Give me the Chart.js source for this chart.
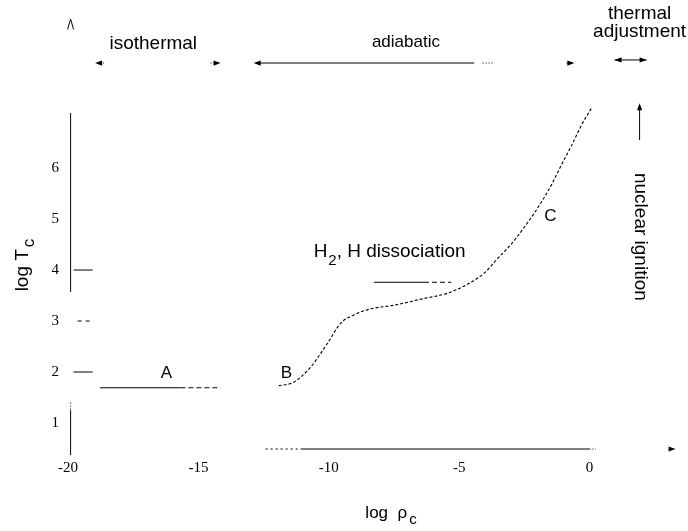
<!DOCTYPE html>
<html>
<head>
<meta charset="utf-8">
<script src="https://cdn.jsdelivr.net/npm/chart.js@4.4.1/dist/chart.umd.min.js"></script>
<style>
  html, body { margin: 0; padding: 0; background: #fff; }
</style>
</head>
<body>
<canvas id="trackChart" width="688" height="531"></canvas>
<script>
// central density / temperature track of a collapsing cloud core
const trackRho = [-11.92, -11.35, -10.69, -10.04, -9.54, -9.04, -8.38, -7.50, -6.46, -5.42, -4.65,
                  -4.04, -3.50, -3.00, -2.50, -1.96, -1.46, -1.08, -0.69, -0.31, 0.08];
const trackT = [1.73, 1.80, 2.10, 2.57, 2.96, 3.12, 3.24, 3.31, 3.43, 3.55, 3.73,
                3.94, 4.24, 4.51, 4.84, 5.24, 5.67, 6.06, 6.44, 6.84, 7.18];
// isothermal stage (A) and the H2 / H dissociation level
const isoRho = [-18.77, -15.69, -14.15];
const isoT = [1.69, 1.69, 1.69];
const dissRho = [-8.27, -6.35, -5.30];
const dissT = [3.76, 3.76, 3.76];

const xTicks = [-20, -15, -10, -5, 0];
const yTicks = [1, 2, 3, 4, 5, 6];

// phases shown as arrows along the top
const phases = ['isothermal', 'adiabatic', 'thermal adjustment'];
const phaseFrom = [-18.96, -12.88, 0.96];
const phaseTo = [-14.15, -0.58, 2.19];

const SANS = '"Liberation Sans", Arial, sans-serif';
const SERIF = '"Liberation Serif", "Times New Roman", serif';

// dashed tail on the last segment of a marker line
const tailDash = ctx => ctx.p0DataIndex === 1 ? [5, 3] : undefined;

function arrowHead(ctx, x, y, ang) {
    const len = 7, half = 2.6;
    ctx.beginPath();
    ctx.moveTo(x, y);
    ctx.lineTo(x - len * Math.cos(ang) + half * Math.sin(ang), y - len * Math.sin(ang) - half * Math.cos(ang));
    ctx.lineTo(x - len * Math.cos(ang) - half * Math.sin(ang), y - len * Math.sin(ang) + half * Math.cos(ang));
    ctx.closePath();
    ctx.fill();
}

function seg(ctx, x1, y1, x2, y2, dash) {
    ctx.setLineDash(dash || []);
    ctx.beginPath();
    ctx.moveTo(x1, y1);
    ctx.lineTo(x2, y2);
    ctx.stroke();
    ctx.setLineDash([]);
}

const sketch = {
    id: 'sketch',
    afterDraw(chart) {
        const { ctx, scales: { x, y } } = chart;
        const px = v => x.getPixelForValue(v);
        const py = v => y.getPixelForValue(v);
        ctx.save();
        ctx.strokeStyle = '#000';
        ctx.fillStyle = '#000';
        ctx.lineWidth = 1;

        // y axis (broken as in the original print)
        const ax = px(-19.9);
        seg(ctx, ax, py(7.08), ax, py(3.57));
        seg(ctx, ax, py(1.25), ax, py(0.37));
        seg(ctx, ax, py(1.40), ax, py(1.25), [1, 2]);
        seg(ctx, ax - 3, py(8.72), ax, py(8.92));
        seg(ctx, ax + 3, py(8.72), ax, py(8.92));
        // inward ticks
        seg(ctx, ax + 3, py(4), ax + 22, py(4));
        seg(ctx, ax + 3, py(2), ax + 22, py(2));
        seg(ctx, ax + 7, py(3), ax + 21, py(3), [4, 4]);

        // x axis
        const ay = py(0.49);
        seg(ctx, px(-12.42), ay, px(-11.08), ay, [2, 3]);
        seg(ctx, px(-11.08), ay, px(0), ay);
        seg(ctx, px(0), ay, px(0.25), ay, [1, 2]);
        arrowHead(ctx, px(3.3), ay, 0);

        // phase arrows
        const top = py(8.06);
        arrowHead(ctx, px(phaseFrom[0]), top, Math.PI);
        seg(ctx, px(phaseFrom[0]) + 5, top, px(phaseFrom[0]) + 9, top, [1, 2]);
        arrowHead(ctx, px(phaseTo[0]), top, 0);
        seg(ctx, px(phaseTo[0]) - 10, top, px(phaseTo[0]) - 5, top, [1, 2]);
        arrowHead(ctx, px(phaseFrom[1]), top, Math.PI);
        seg(ctx, px(phaseFrom[1]) + 4, top, px(-4.42), top);
        seg(ctx, px(-4.1), top, px(-3.7), top, [1, 2]);
        arrowHead(ctx, px(phaseTo[1]), top, 0);
        seg(ctx, px(phaseTo[1]) - 8, top, px(phaseTo[1]) - 4, top, [1, 2]);
        const top2 = py(8.12);
        seg(ctx, px(phaseFrom[2]), top2, px(phaseTo[2]), top2);
        arrowHead(ctx, px(phaseFrom[2]), top2, Math.PI);
        arrowHead(ctx, px(phaseTo[2]), top2, 0);

        // nuclear ignition arrow
        seg(ctx, px(1.92), py(6.55), px(1.92), py(7.2));
        arrowHead(ctx, px(1.92), py(7.27), -Math.PI / 2);

        // labels
        ctx.textAlign = 'center';
        ctx.textBaseline = 'middle';
        ctx.font = '19px ' + SANS;
        ctx.fillText(phases[0], px(-16.73), py(8.43));
        ctx.font = '17px ' + SANS;
        ctx.fillText(phases[1], px(-7.04), py(8.47));
        ctx.font = '19px ' + SANS;
        ctx.fillText('thermal', px(1.92), py(9.02));
        ctx.fillText('adjustment', px(1.92), py(8.67));
        ctx.font = '17px ' + SANS;
        ctx.fillText('A', px(-16.23), py(1.98));
        ctx.fillText('B', px(-11.62), py(1.98));
        ctx.fillText('C', px(-1.5), py(5.06));

        // H2, H dissociation
        ctx.font = '19px ' + SANS;
        ctx.textAlign = 'left';
        let hx = px(-10.58);
        const hy = py(4.35);
        ctx.fillText('H', hx, hy);
        hx += ctx.measureText('H').width;
        ctx.font = '15px ' + SANS;
        ctx.fillText('2', hx + 1, hy + 9);
        hx += ctx.measureText('2').width + 1;
        ctx.font = '19px ' + SANS;
        ctx.fillText(', H dissociation', hx, hy);

        // nuclear ignition, reading downwards
        ctx.save();
        ctx.translate(px(1.96), py(4.65));
        ctx.rotate(Math.PI / 2);
        ctx.textAlign = 'center';
        ctx.fillText('nuclear ignition', 0, 0);
        ctx.restore();

        // axis titles with subscripts
        function subTitle(main, sub, cx, cy, rot, size) {
            ctx.save();
            ctx.translate(cx, cy);
            ctx.rotate(rot);
            ctx.font = size + 'px ' + SANS;
            const w1 = ctx.measureText(main).width;
            ctx.font = (size - 2) + 'px ' + SANS;
            const w2 = ctx.measureText(sub).width;
            ctx.textAlign = 'left';
            ctx.textBaseline = 'alphabetic';
            ctx.font = size + 'px ' + SANS;
            ctx.fillText(main, -(w1 + w2) / 2, 6);
            ctx.font = (size - 2) + 'px ' + SANS;
            ctx.fillText(sub, -(w1 + w2) / 2 + w1 + 2, 12);
            ctx.restore();
        }
        subTitle('log T', 'c', 22, 266, -Math.PI / 2, 19);
        subTitle('log  \u03c1', 'c', 390, 512, 0, 17);

        ctx.restore();
    }
};

new Chart(document.getElementById('trackChart'), {
    type: 'scatter',
    data: {
        datasets: [{
            data: trackRho.map((v, i) => ({ x: v, y: trackT[i] })),
            showLine: true,
            borderColor: '#000',
            borderWidth: 1.1,
            borderDash: [3, 2],
            cubicInterpolationMode: 'monotone',
            pointRadius: 0,
        }, {
            data: isoRho.map((v, i) => ({ x: v, y: isoT[i] })),
            showLine: true,
            borderColor: '#000',
            borderWidth: 1.1,
            pointRadius: 0,
            segment: { borderDash: tailDash },
        }, {
            data: dissRho.map((v, i) => ({ x: v, y: dissT[i] })),
            showLine: true,
            borderColor: '#000',
            borderWidth: 1.1,
            pointRadius: 0,
            segment: { borderDash: tailDash },
        }]
    },
    options: {
        responsive: false,
        animation: false,
        devicePixelRatio: 1,
        layout: { padding: { top: 10, right: 2, left: 0, bottom: 0 } },
        plugins: { legend: { display: false }, tooltip: { enabled: false } },
        scales: {
            x: {
                type: 'linear',
                min: -20,
                max: 3.7,
                afterFit: s => { s.height = 82; s.paddingLeft = 0; s.paddingRight = 0; },
                afterBuildTicks: s => { s.ticks = xTicks.map(v => ({ value: v })); },
                grid: { display: false, drawTicks: false },
                border: { display: false },
                ticks: { color: '#000', font: { family: SERIF, size: 15 }, padding: 10, maxRotation: 0, autoSkip: false }
            },
            y: {
                type: 'linear',
                min: 0.49,
                max: 9.1,
                afterFit: s => { s.width = 68; s.paddingTop = 0; s.paddingBottom = 0; },
                afterBuildTicks: s => { s.ticks = yTicks.map(v => ({ value: v })); },
                grid: { display: false, drawTicks: false },
                border: { display: false },
                ticks: { color: '#000', font: { family: SERIF, size: 15 }, padding: 9, autoSkip: false }
            }
        }
    },
    plugins: [sketch]
});
</script>
</body>
</html>
